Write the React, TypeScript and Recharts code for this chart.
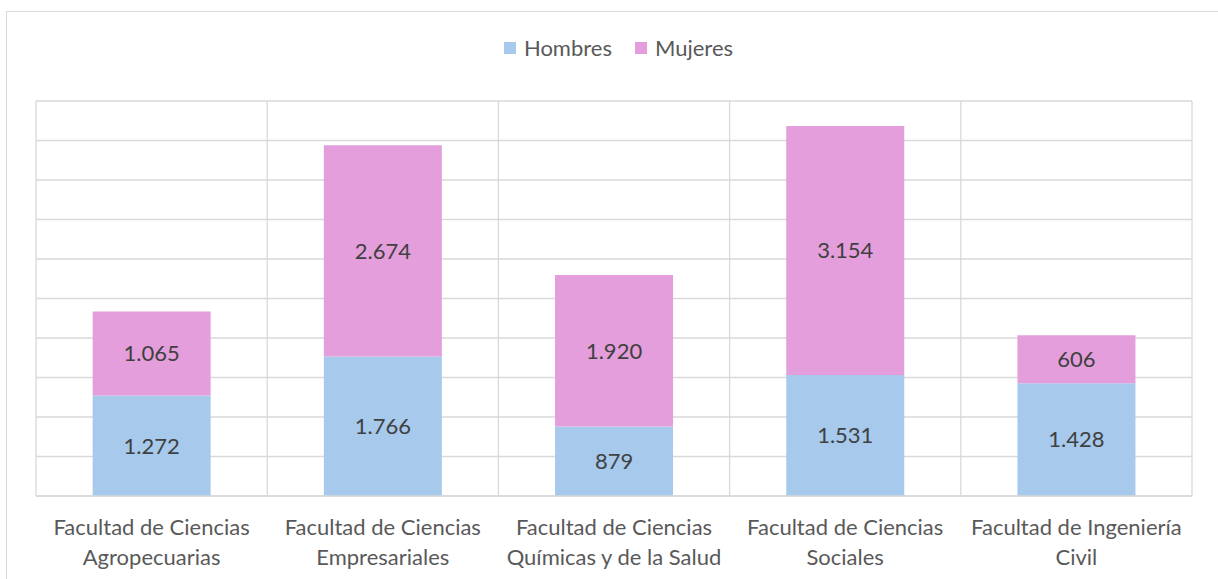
import { BarChart, Bar, XAxis, YAxis, CartesianGrid, LabelList } from "recharts";

const facultades = [
  ["Facultad de Ciencias", "Agropecuarias"],
  ["Facultad de Ciencias", "Empresariales"],
  ["Facultad de Ciencias", "Químicas y de la Salud"],
  ["Facultad de Ciencias", "Sociales"],
  ["Facultad de Ingeniería", "Civil"],
];
const hombres = [1272, 1766, 879, 1531, 1428];
const mujeres = [1065, 2674, 1920, 3154, 606];
const yTicks = [0, 500, 1000, 1500, 2000, 2500, 3000, 3500, 4000, 4500, 5000];
const yMax = 5000;

const data = facultades.map((lines, i) => ({
  name: lines.join(" "),
  Hombres: hombres[i],
  Mujeres: mujeres[i],
}));

const AZUL = "#a6c9ec";
const ROSA = "#e39edb";
const FONT = "Lato, 'Open Sans', sans-serif";

// 1272 -> "1.272"
const fmt = (v: number) => String(v).replace(/\B(?=(\d{3})+(?!\d))/g, ".");

function TickDosLineas({ x, y, payload, index }: any) {
  const lines = facultades[index] ?? [String(payload?.value ?? "")];
  return (
    <text x={x} y={y} textAnchor="middle" fill="#595959" fontSize={22} fontFamily={FONT}>
      {lines.map((l, i) => (
        <tspan key={i} x={x} dy={i === 0 ? 31 : 30}>
          {l}
        </tspan>
      ))}
    </text>
  );
}

export default function App() {
  return (
    <div style={{ position: "absolute", left: 0, top: 0, width: 1218, height: 579, background: "#fff", fontFamily: FONT, overflow: "hidden" }}>
      <div
        style={{
          position: "absolute",
          left: 6,
          top: 11,
          width: 1230,
          height: 600,
          border: "1.5px solid #d9d9d9",
        }}
      />
      <div
        style={{
          position: "absolute",
          top: 34,
          left: 0,
          width: 1218,
          display: "flex",
          justifyContent: "center",
          gap: 23,
          fontSize: 22,
          color: "#595959",
          paddingLeft: 19,
          boxSizing: "border-box",
        }}
      >
        {[["Hombres", AZUL], ["Mujeres", ROSA]].map(([n, c]) => (
          <span key={n} style={{ display: "flex", alignItems: "center", gap: 8 }}>
            <span style={{ width: 12, height: 12, background: c, display: "inline-block" }} />
            {n}
          </span>
        ))}
      </div>
      <div style={{ position: "absolute", left: 0, top: 0 }}>
        <BarChart
          width={1218}
          height={579}
          data={data}
          margin={{ top: 101, right: 26, left: 36, bottom: 13 }}
          barCategoryGap="24.5%"
        >
          <CartesianGrid
            stroke="#d9d9d9"
            strokeWidth={1.3}
            verticalCoordinatesGenerator={({ offset }: any) =>
              facultades
                .map((_, i) => offset.left + (i * offset.width) / facultades.length)
                .concat([offset.left + offset.width])
            }
            horizontalCoordinatesGenerator={({ offset }: any) =>
              yTicks.map((t) => offset.top + offset.height * (1 - t / yMax))
            }
          />
          <XAxis
            dataKey="name"
            height={70}
            interval={0}
            tickLine={false}
            axisLine={{ stroke: "#d9d9d9", strokeWidth: 1.3 }}
            tick={<TickDosLineas />}
          />
          <YAxis
            width={0}
            domain={[0, yMax]}
            ticks={yTicks}
            tick={false}
            axisLine={false}
            tickLine={false}
          />
          <Bar dataKey="Hombres" stackId="a" fill={AZUL} isAnimationActive={false}>
            <LabelList dataKey="Hombres" position="center" formatter={(v: any) => fmt(v)} fill="#404040" fontSize={22} fontFamily={FONT} />
          </Bar>
          <Bar dataKey="Mujeres" stackId="a" fill={ROSA} isAnimationActive={false}>
            <LabelList dataKey="Mujeres" position="center" formatter={(v: any) => fmt(v)} fill="#404040" fontSize={22} fontFamily={FONT} />
          </Bar>
        </BarChart>
      </div>
    </div>
  );
}
